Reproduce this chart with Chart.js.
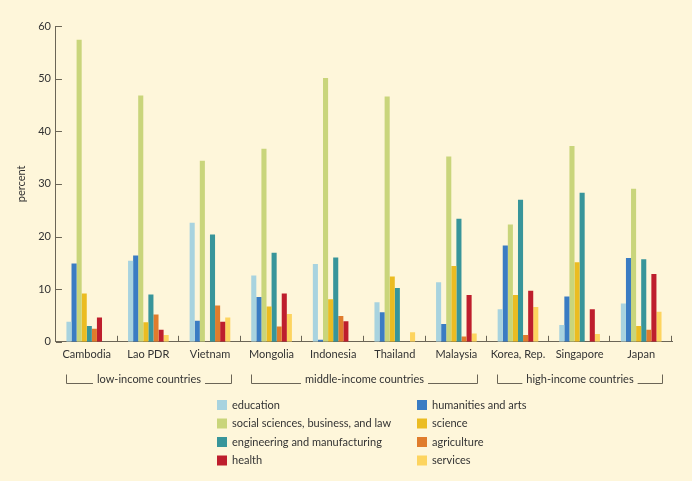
<!DOCTYPE html>
<html>
<head>
<meta charset="utf-8">
<script src="https://cdn.jsdelivr.net/npm/chart.js@4.4.1/dist/chart.umd.min.js"></script>
<style>
  html, body { margin: 0; padding: 0; background: #fef6da; }
  #wrap { width: 692px; height: 481px; }
</style>
</head>
<body>
<div id="wrap"><canvas id="chart" width="692" height="481"></canvas></div>
<script>
// data (percent of graduates)
const countries = ["Cambodia", "Lao PDR", "Vietnam", "Mongolia", "Indonesia", "Thailand", "Malaysia", "Korea, Rep.", "Singapore", "Japan"];

const education    = [3.8, 15.4, 22.6, 12.6, 14.8, 7.5, 11.3, 6.2, 3.2, 7.3];
const humanities   = [14.9, 16.4, 4.0, 8.5, 0.4, 5.6, 3.4, 18.3, 8.6, 15.9];
const socialSci    = [57.4, 46.8, 34.4, 36.7, 50.1, 46.6, 35.2, 22.3, 37.2, 29.1];
const science      = [9.2, 3.7, 0, 6.7, 8.1, 12.4, 14.4, 8.9, 15.1, 3.0];
const engineering  = [3.0, 9.0, 20.4, 16.9, 16.0, 10.2, 23.4, 27.0, 28.3, 15.7];
const agriculture  = [2.5, 5.2, 6.9, 2.9, 4.9, 0, 1.0, 1.3, 0, 2.3];
const health       = [4.6, 2.3, 3.8, 9.2, 3.9, 0, 8.9, 9.7, 6.2, 12.9];
const services     = [0, 1.3, 4.6, 5.3, 0, 1.8, 1.6, 6.6, 1.5, 5.7];

const yTicks = [0, 10, 20, 30, 40, 50, 60];

const groups = [
  { label: "low-income countries", from: 0, to: 2 },
  { label: "middle-income countries", from: 3, to: 6 },
  { label: "high-income countries", from: 7, to: 9 }
];

const FONT = "Lato, 'Open Sans', sans-serif";
const TEXT = "#333333";
const AXIS = "#6b6556";

function ds(label, data, color) {
  return { label, data, backgroundColor: color, borderWidth: 0, categoryPercentage: 0.66, barPercentage: 1.0 };
}

const datasets = [
  ds("education", education, "#a8d3df"),
  ds("humanities and arts", humanities, "#3a7cc3"),
  ds("social sciences, business, and law", socialSci, "#c9d57b"),
  ds("science", science, "#ebbc22"),
  ds("engineering and manufacturing", engineering, "#38959a"),
  ds("agriculture", agriculture, "#e07c2c"),
  ds("health", health, "#be1e2d"),
  ds("services", services, "#fdd45f")
];

// inward tick marks, group brackets and the 2-column legend
const extras = {
  id: "extras",
  afterDraw(chart) {
    const { ctx, chartArea } = chart;
    const x = chart.scales.x, y = chart.scales.y;
    ctx.save();
    ctx.strokeStyle = AXIS;
    ctx.lineWidth = 1;

    // y ticks pointing into the plot
    yTicks.forEach(v => {
      const py = Math.round(y.getPixelForValue(v)) + 0.5;
      ctx.beginPath();
      ctx.moveTo(chartArea.left, py);
      ctx.lineTo(chartArea.left + 6, py);
      ctx.stroke();
    });

    // category boundary ticks pointing up
    const step = (chartArea.right - chartArea.left) / countries.length;
    for (let i = 1; i <= countries.length; i++) {
      const px = Math.round(chartArea.left + step * i) - 0.5;
      ctx.beginPath();
      ctx.moveTo(px, chartArea.bottom);
      ctx.lineTo(px, chartArea.bottom - 6);
      ctx.stroke();
    }

    // group brackets
    ctx.font = "11px " + FONT;
    ctx.fillStyle = TEXT;
    ctx.textBaseline = "middle";
    ctx.textAlign = "center";
    const ly = 383.5;
    groups.forEach(g => {
      const x1 = Math.round(x.getPixelForValue(g.from) - step / 2 + 10) + 0.5;
      const x2 = Math.round(x.getPixelForValue(g.to) + step / 2 - 9) - 0.5;
      const cx = (x1 + x2) / 2;
      const tw = ctx.measureText(g.label).width;
      ctx.beginPath();
      ctx.moveTo(x1, ly - 9);
      ctx.lineTo(x1, ly);
      ctx.lineTo(cx - tw / 2 - 4, ly);
      ctx.moveTo(cx + tw / 2 + 4, ly);
      ctx.lineTo(x2, ly);
      ctx.lineTo(x2, ly - 9);
      ctx.stroke();
      ctx.fillText(g.label, cx, ly - 4);
    });

    // legend, two columns
    ctx.textAlign = "left";
    const cols = [217, 417];
    const rows = [405, 423.5, 442, 460.5];
    chart.data.datasets.forEach((d, i) => {
      const cx = cols[i % 2];
      const cy = rows[Math.floor(i / 2)];
      ctx.fillStyle = d.backgroundColor;
      ctx.fillRect(cx, cy - 5, 10, 10);
      ctx.fillStyle = TEXT;
      ctx.fillText(d.label, cx + 15, cy);
    });
    ctx.restore();
  }
};

new Chart(document.getElementById("chart"), {
  type: "bar",
  data: { labels: countries, datasets },
  options: {
    responsive: false,
    animation: false,
    devicePixelRatio: 1,
    layout: { padding: { top: 26, right: 20, bottom: 114, left: 15 } },
    plugins: { legend: { display: false }, tooltip: { enabled: false } },
    scales: {
      x: {
        grid: { display: false, drawTicks: false },
        border: { color: AXIS, width: 1 },
        ticks: { color: TEXT, font: { family: FONT, size: 11 }, padding: 6, maxRotation: 0, autoSkip: false }
      },
      y: {
        min: 0, max: 60,
        afterBuildTicks: (axis) => { axis.ticks = yTicks.map(v => ({ value: v })); },
        grid: { display: false, drawTicks: false },
        border: { color: AXIS, width: 1 },
        ticks: { color: TEXT, font: { family: FONT, size: 11 }, padding: 5 },
        title: { display: true, text: "percent", color: TEXT, font: { family: FONT, size: 11 }, padding: { top: 0, bottom: 5 } }
      }
    }
  },
  plugins: [extras]
});
</script>
</body>
</html>
